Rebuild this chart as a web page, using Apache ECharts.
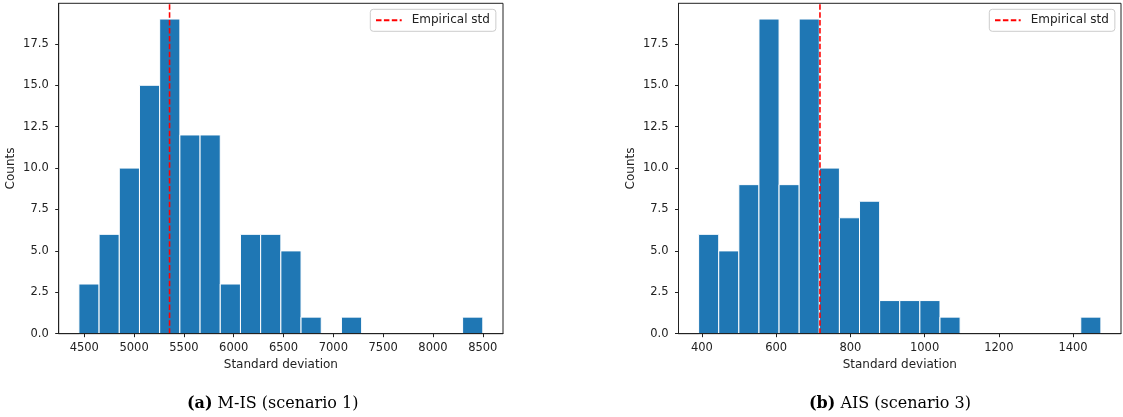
<!DOCTYPE html>
<html>
<head>
<meta charset="utf-8">
<script src="https://cdn.jsdelivr.net/npm/echarts@6/dist/echarts.min.js"></script>
<style>
html,body{margin:0;padding:0;background:#fff;}
#chart{width:1123px;height:417px;}
</style>
</head>
<body>
<div id="chart"></div>
<script>
// ---- data ----
const countsA = [3, 6, 10, 15, 19, 12, 12, 3, 6, 6, 5, 1, 0, 1, 0, 0, 0, 0, 0, 1];
const binRangeA = [4446, 8500];
const stdA = 5356;
const xTicksA = [4500, 5000, 5500, 6000, 6500, 7000, 7500, 8000, 8500];

const countsB = [6, 5, 9, 19, 9, 19, 10, 7, 8, 2, 2, 2, 1, 0, 0, 0, 0, 0, 0, 1];
const binRangeB = [391, 1475];
const stdB = 718;
const xTicksB = [400, 600, 800, 1000, 1200, 1400];

const yTicks = [0, 2.5, 5, 7.5, 10, 12.5, 15, 17.5];
const legendLabel = 'Empirical std';
const xLabel = 'Standard deviation';
const yLabel = 'Counts';
const captionA = ['(a)', 'M-IS (scenario 1)'];
const captionB = ['(b)', 'AIS (scenario 3)'];

// ---- helpers ----
function binsData(counts, range) {
  const w = (range[1] - range[0]) / counts.length;
  return counts.map((c, i) => [range[0] + i * w, range[0] + (i + 1) * w, c]);
}
function xlim(range) {
  const m = (range[1] - range[0]) * 0.05;
  return [range[0] - m, range[1] + m];
}
const ymax = Math.max(...countsA, ...countsB) * 1.05;
const FONT = 'DejaVu Sans';
const TXT = '#222222';

function xAxisCfg(idx, range, ticks) {
  const lim = xlim(range);
  return {
    type: 'value', gridIndex: idx, min: lim[0], max: lim[1], z: 10,
    name: xLabel, nameLocation: 'middle', nameGap: 24,
    nameTextStyle: { fontFamily: FONT, fontSize: 12, color: TXT },
    axisLine: { show: true, onZero: false, lineStyle: { color: TXT, width: 1 } },
    axisTick: { show: true, length: 3.5, customValues: ticks, lineStyle: { color: TXT, width: 1 } },
    axisLabel: { customValues: ticks, margin: 8, fontFamily: FONT, fontSize: 11.5, color: TXT,
      formatter: v => String(v) },
    splitLine: { show: false }
  };
}
function yAxisCfg(idx) {
  return {
    type: 'value', gridIndex: idx, min: 0, max: ymax, z: 10,
    name: yLabel, nameLocation: 'middle', nameGap: 42, nameRotate: 90,
    nameTextStyle: { fontFamily: FONT, fontSize: 12, color: TXT },
    axisLine: { show: true, lineStyle: { color: TXT, width: 1 } },
    axisTick: { show: true, length: 3.5, customValues: yTicks, lineStyle: { color: TXT, width: 1 } },
    axisLabel: { customValues: yTicks, margin: 10, fontFamily: FONT, fontSize: 11.5, color: TXT,
      formatter: v => Number(v).toFixed(1) },
    splitLine: { show: false }
  };
}
function histSeries(idx, counts, range) {
  return {
    type: 'custom', xAxisIndex: idx, yAxisIndex: idx,
    data: binsData(counts, range),
    encode: { x: [0, 1], y: 2 },
    renderItem: function (params, api) {
      if (api.value(2) <= 0) return null;
      const p0 = api.coord([api.value(0), api.value(2)]);
      const p1 = api.coord([api.value(1), 0]);
      return {
        type: 'rect',
        shape: { x: p0[0], y: p0[1], width: p1[0] - p0[0], height: p1[1] - p0[1] },
        style: { fill: '#1f77b4', stroke: '#ffffff', lineWidth: 1 }
      };
    },
    z: 2
  };
}
function stdSeries(idx, v) {
  return {
    type: 'line', name: legendLabel, xAxisIndex: idx, yAxisIndex: idx,
    data: [[v, 0], [v, ymax]], symbol: 'none', silent: true,
    lineStyle: { color: '#ff0000', width: 1.6, type: [5.5, 2.4] },
    itemStyle: { color: '#ff0000' },
    z: 5
  };
}
function legendCfg(left) {
  return {
    left: left, top: 9.3, orient: 'horizontal',
    data: [legendLabel],
    padding: [5, 6, 5, 4.7],
    itemWidth: 25.7, itemHeight: 12,
    itemStyle: { opacity: 0 },
    borderColor: '#cccccc', borderWidth: 1, borderRadius: 3,
    backgroundColor: 'rgba(255,255,255,0.8)',
    textStyle: { fontFamily: FONT, fontSize: 12, color: TXT, padding: [0, 0, 0, 5] },
    selectedMode: false
  };
}

const capRich = { b: { fontFamily: 'DejaVu Serif', fontSize: 16, fontWeight: 'bold', fill: '#000' } };

const chart = echarts.init(document.getElementById('chart'), null, { renderer: 'canvas' });
chart.setOption({
  animation: false,
  backgroundColor: '#ffffff',
  grid: [
    { left: 58.7, top: 3.3, width: 444.3, height: 330.4, show: true, borderColor: '#222222', borderWidth: 1, backgroundColor: 'transparent' },
    { left: 678.5, top: 3.3, width: 442.5, height: 330.4, show: true, borderColor: '#222222', borderWidth: 1, backgroundColor: 'transparent' }
  ],
  xAxis: [xAxisCfg(0, binRangeA, xTicksA), xAxisCfg(1, binRangeB, xTicksB)],
  yAxis: [yAxisCfg(0), yAxisCfg(1)],
  legend: [legendCfg(370.3), legendCfg(989.3)],
  series: [
    histSeries(0, countsA, binRangeA),
    stdSeries(0, stdA),
    histSeries(1, countsB, binRangeB),
    stdSeries(1, stdB)
  ],
  graphic: [
    { type: 'text', x: 272.7, y: 404, style: {
      text: '{b|' + captionA[0] + '} ' + captionA[1],
      font: '16px "DejaVu Serif"', fill: '#000', align: 'center', verticalAlign: 'middle',
      rich: capRich } },
    { type: 'text', x: 890, y: 404, style: {
      text: '{b|' + captionB[0] + '} ' + captionB[1],
      font: '16px "DejaVu Serif"', fill: '#000', align: 'center', verticalAlign: 'middle',
      rich: capRich } }
  ]
});
</script>
</body>
</html>
